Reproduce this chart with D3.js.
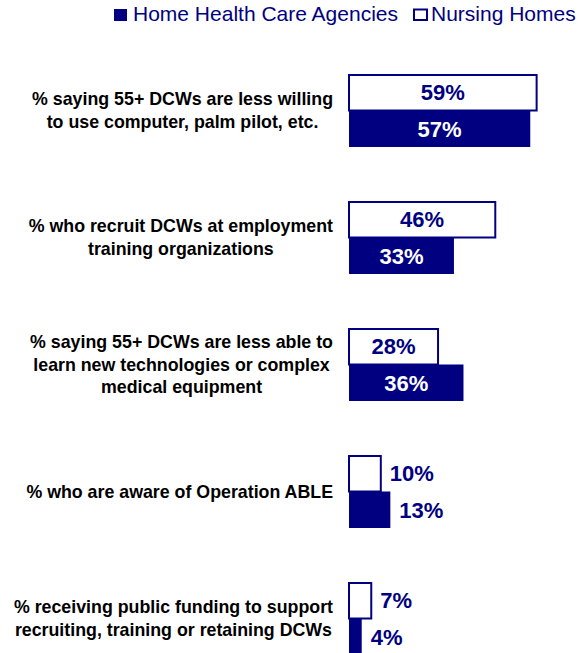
<!DOCTYPE html>
<html>
<head>
<meta charset="utf-8">
<script src="https://cdn.jsdelivr.net/npm/d3@7"></script>
<style>
  html, body { margin: 0; padding: 0; background: #fff; }
  svg { display: block; font-family: "Liberation Sans", Arial, sans-serif; }
</style>
</head>
<body>
<svg id="chart" width="580" height="653"></svg>
<script>
// ---- data ----
const categories = [
  ["% saying 55+ DCWs are less willing", "to use computer, palm pilot, etc."],
  ["% who recruit DCWs at employment", "training organizations"],
  ["% saying 55+ DCWs are less able to", "learn new technologies or complex", "medical equipment"],
  ["% who are aware of Operation ABLE"],
  ["% receiving public funding to support", "recruiting, training or retaining DCWs"]
];
const seriesNames = ["Home Health Care Agencies", "Nursing Homes"];
const nursingHomes = [59, 46, 28, 10, 7];
const homeHealthCare = [57, 33, 36, 13, 4];

// ---- setup ----
const navy = "#000080";
const svg = d3.select("#chart");

const catKeys = categories.map((c, i) => "c" + i);
const y = d3.scaleBand().domain(catKeys).range([74, 655]).paddingInner(54 / 127).paddingOuter(0);
const sub = d3.scaleBand().domain(["nh", "hhc"]).range([0, y.bandwidth()]).padding(0);
const x = d3.scaleLinear().domain([0, 100]).range([349, 667]);

const rows = catKeys.map((k, i) => ({ key: k, lines: categories[i], nh: nursingHomes[i], hhc: homeHealthCare[i] }));

const g = svg.append("g");

// category labels
const labelRight = 333;
const lineH = 22.5;
rows.forEach(r => {
  const cy = y(r.key) + y.bandwidth() / 2;
  const t = g.append("text")
    .attr("font-size", 17.8)
    .attr("font-weight", "bold")
    .attr("fill", "#000")
    .attr("text-anchor", "middle");
  const n = r.lines.length;
  const spans = r.lines.map((ln, j) => t.append("tspan")
    .attr("y", cy + (j - (n - 1) / 2) * lineH)
    .attr("dy", "0.35em")
    .text(ln));
  const maxW = d3.max(spans, s => s.node().getComputedTextLength());
  spans.forEach(s => s.attr("x", labelRight - maxW / 2));
});

// Nursing Homes (outlined) bars
g.selectAll("rect.nh").data(rows).join("rect")
  .attr("class", "nh")
  .attr("x", x(0))
  .attr("y", d => y(d.key) + sub("nh") + 1)
  .attr("width", d => x(d.nh) - x(0))
  .attr("height", sub.bandwidth() - 1)
  .attr("fill", "#fff")
  .attr("stroke", navy)
  .attr("stroke-width", 2);

// Home Health Care (filled) bars
g.selectAll("rect.hhc").data(rows).join("rect")
  .attr("class", "hhc")
  .attr("x", x(0))
  .attr("y", d => y(d.key) + sub("hhc"))
  .attr("width", d => x(d.hhc) - x(0))
  .attr("height", sub.bandwidth())
  .attr("fill", navy);

// value labels
const valFont = 22;
function addValue(d, series) {
  const v = d[series];
  const yc = y(d.key) + sub(series) + sub.bandwidth() / 2;
  const inside = v >= 20;
  const t = g.append("text")
    .attr("font-size", valFont)
    .attr("font-weight", "bold")
    .attr("y", yc)
    .attr("dy", "0.36em")
    .text(v + "%");
  if (inside) {
    t.attr("x", (x(0) + x(v)) / 2).attr("text-anchor", "middle")
     .attr("fill", series === "hhc" ? "#fff" : navy);
  } else {
    t.attr("x", x(v) + 9).attr("text-anchor", "start").attr("fill", navy);
  }
}
rows.forEach(d => { addValue(d, "nh"); addValue(d, "hhc"); });

// legend
const leg = svg.append("g");
let lx = 114;
seriesNames.forEach((name, i) => {
  if (i === 0) {
    leg.append("rect").attr("x", lx).attr("y", 9).attr("width", 13).attr("height", 12).attr("fill", navy);
  } else {
    leg.append("rect").attr("x", lx + 1).attr("y", 9.5).attr("width", 13).attr("height", 10.5)
      .attr("fill", "#fff").attr("stroke", navy).attr("stroke-width", 2);
  }
  const t = leg.append("text").attr("x", lx + (i === 0 ? 19 : 18)).attr("y", 21)
    .attr("font-size", 21).attr("fill", navy).text(name);
  lx = lx + (i === 0 ? 19 : 18) + t.node().getComputedTextLength() + 15;
});
</script>
</body>
</html>
